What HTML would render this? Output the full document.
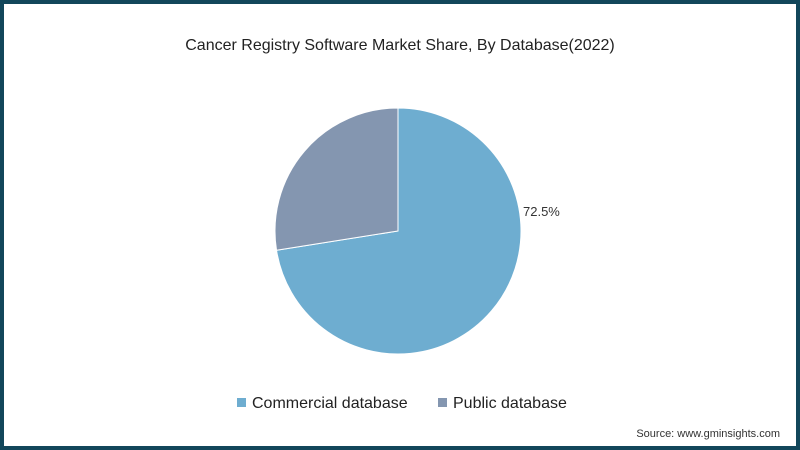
<!DOCTYPE html>
<html><head><meta charset="utf-8"><style>
body{margin:0;width:800px;height:450px;overflow:hidden;background:#fff;font-family:"Liberation Sans",sans-serif}
#frame{position:absolute;left:0;top:0;width:792px;height:442px;border:4px solid #12475b;background:#fff}
</style></head><body>
<div id="frame"></div>
<svg id="chart" width="800" height="450" style="position:absolute;left:0;top:0">
<text x="400" y="50" text-anchor="middle" font-size="16" fill="#222">Cancer Registry Software Market Share, By Database(2022)</text>
<g id="slices"></g>
<g>
<rect x="237" y="398" width="9" height="9" fill="#6eadd0"/>
<text x="252" y="408" font-size="16" fill="#222">Commercial database</text>
<rect x="438" y="398" width="9" height="9" fill="#8496b0"/>
<text x="453" y="408" font-size="16" fill="#222">Public database</text>
</g>
<text x="780" y="437" text-anchor="end" font-size="11" fill="#333">Source: www.gminsights.com</text>
</svg>
<script>
const categories=["Commercial database","Public database"];
const values=[72.5,27.5];
const labels=["72.5%",""];
const colors=["#6eadd0","#8496b0"];
const cx=398,cy=231,r=123;
const g=document.getElementById('slices');
const total=values.reduce((a,b)=>a+b,0);
let a0=0;
values.forEach((v,i)=>{
  const a1=a0+v/total*2*Math.PI;
  const x0=cx+r*Math.sin(a0),y0=cy-r*Math.cos(a0),x1=cx+r*Math.sin(a1),y1=cy-r*Math.cos(a1);
  const p=document.createElementNS('http://www.w3.org/2000/svg','path');
  p.setAttribute('d',`M${cx},${cy}L${x0},${y0}A${r},${r} 0 ${a1-a0>Math.PI?1:0} 1 ${x1},${y1}Z`);
  p.setAttribute('fill',colors[i]);p.setAttribute('stroke','#fff');p.setAttribute('stroke-width','1');
  
  
  g.appendChild(p);
  if(labels[i]){
    const t=document.createElementNS('http://www.w3.org/2000/svg','text');
    t.setAttribute('x',cx+r+2);t.setAttribute('y',cy-15);
    t.setAttribute('font-size','13');t.setAttribute('fill','#333');
    t.textContent=labels[i];
    
    
    g.appendChild(t);
  }
  a0=a1;
});
</script>
</body></html>
